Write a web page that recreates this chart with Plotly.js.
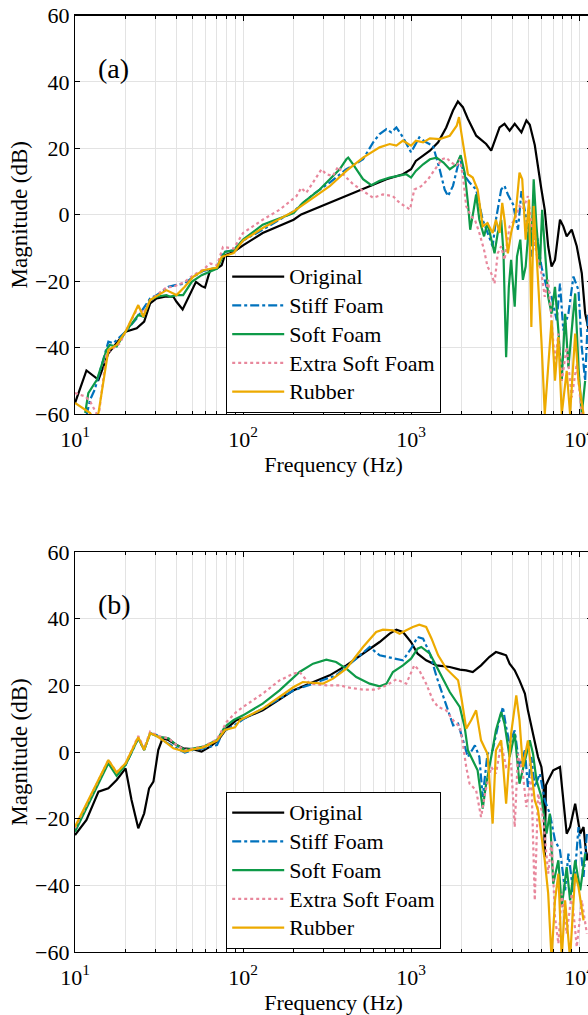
<!DOCTYPE html>
<html>
<head>
<meta charset="utf-8">
<script src="https://cdn.plot.ly/plotly-3.0.1.min.js"></script>
<style>
html,body{margin:0;padding:0;overflow:hidden;background:#fff;}
#chart{width:600px;height:1015px;}
</style>
</head>
<body>
<div id="chart"></div>
<script>
// ---------- Panel (a) ----------
const fA_original = [10, 11.7, 13.8, 15.8, 20, 23.3, 25.8, 28, 30.6, 34.3, 38.5, 40.2, 43.7, 47.2, 52.5, 56.7, 59.4, 63.7, 69.9, 74.6, 78, 87.8, 93.9, 100, 131, 200, 222, 328, 518, 714, 895, 1000, 1068, 1180, 1295, 1450, 1620, 1777, 1900, 2035, 2178, 2443, 2800, 3000, 3140, 3365, 3600, 3860, 4140, 4540, 4860, 5090, 5450, 5700, 5970, 6250, 6550, 6860, 7190, 7700, 8060, 8440, 9040, 9690, 10380, 10870, 11500, 12000];
const mA_original = [-56.7, -46.9, -49.7, -41.7, -35.2, -34.2, -32.2, -26.7, -25.2, -24.7, -24.7, -26.2, -28.5, -25.2, -20.2, -21.5, -21.9, -16.7, -16.2, -15.2, -12.2, -11.2, -10.2, -9.2, -5.5, -1.5, 0.1, 3.6, 7.6, 10.7, 12.2, 13.7, 16.2, 17.8, 19.3, 21.8, 26.3, 31.4, 34.1, 32.4, 28.9, 23.8, 21.3, 19.3, 22.3, 26.3, 27.4, 25.3, 27.4, 24.8, 28.4, 27.1, 21.0, 13.7, 7.6, 1.5, -9.5, -15.6, -13.6, -1.5, -3.5, -6.5, -4.5, -9.5, -17.6, -29.7, -35, -40];

const fA_stiff = [11.7, 12.3, 13.1, 15.8, 16.9, 20, 23.3, 28, 30.6, 36, 39.5, 45, 50.5, 58, 70, 76, 88, 100, 131, 200, 261, 328, 412, 518, 595, 650, 714, 763, 818, 895, 1000, 1068, 1120, 1230, 1350, 1480, 1585, 1660, 1777, 1950, 2085, 2230, 2440, 2670, 2920, 3060, 3200, 3440, 3600, 3770, 4050, 4330, 4540, 4860, 5200, 5580, 5970, 6400, 6860, 7360, 7700, 8060, 8640, 9260, 9920, 10380, 10870, 11300, 12000];
const mA_stiff = [-60.5, -55.7, -52.7, -38.2, -38.7, -35.2, -31.2, -25.2, -24.2, -21.7, -21.2, -20.7, -18.7, -16.9, -15.9, -11.2, -10.7, -7.8, -4.5, 1.0, 6.1, 9.7, 13.7, 16.7, 21.8, 24.3, 25.8, 24.8, 26.3, 23.3, 18.8, 21.3, 23.3, 21.8, 20.8, 13.7, 7.6, 5.6, 8.7, 17.2, 11.7, 9.7, 7.6, -1.5, -6.5, -9.5, -1.5, 7.6, 8.7, 6.1, 3.1, -4.5, 7.1, -1.5, -12.6, -5.5, -15.6, -21.7, -24.7, -31.8, -20.7, -34.8, -29.8, -18.6, -22.7, -39.9, -50, -30, -40];

const fA_soft = [11.5, 12.0, 13.5, 15.4, 16.1, 17.7, 20, 23.8, 25.5, 28, 30.6, 35, 36.8, 40.2, 44, 49.5, 56.7, 63.7, 70, 78, 88, 100, 131, 200, 227, 286, 328, 376, 412, 423, 452, 518, 580, 650, 746, 855, 937, 1000, 1068, 1180, 1295, 1420, 1560, 1700, 1870, 1975, 2085, 2180, 2250, 2350, 2440, 2550, 2720, 2850, 3000, 3140, 3280, 3440, 3550, 3680, 3820, 3940, 4140, 4270, 4470, 4630, 4810, 5040, 5200, 5370, 5580, 5840, 6030, 6250, 6550, 6860, 7190, 7530, 7890, 8260, 8640, 9040, 9480, 9920, 10380, 10870];
const mA_soft = [-59.7, -53.7, -49.7, -40.7, -39.2, -39.7, -35.2, -30.2, -30.7, -25.7, -24.7, -24.2, -24.7, -24.2, -24.2, -20.2, -18.2, -17.2, -16.2, -11.2, -10.7, -7.5, -3.0, 0.5, 3.6, 7.6, 10.7, 13.7, 16.7, 17.2, 15.2, 10.7, 8.9, 10.2, 11.2, 11.7, 12.2, 11.2, 13.2, 15.2, 16.7, 17.2, 15.7, 13.7, 15.2, 17.9, 12.7, 3.6, -4.5, 1.0, 6.1, -1.5, -6.5, -2.5, -7.5, -11.6, -5.5, -1.5, -11.6, -42.9, -21.7, -13.6, -27.7, -12.6, -7.5, -19.6, -15.6, -2.5, -9.5, 10.7, -3.5, -15.6, 1.5, -9.5, -24.7, -29.8, -21.7, -34.8, -50, -29.8, -46, -34.8, -23.7, -46, -60, -50];

const fA_extra = [10, 10.7, 11.5, 12.3, 13.1, 13.8, 15.4, 16.9, 18.5, 20, 23.8, 25.5, 28, 30.6, 35, 38.5, 45, 50.5, 58, 63.7, 70, 76, 88, 100, 131, 165, 208, 222, 238, 261, 293, 313, 343, 368, 403, 452, 518, 595, 680, 780, 855, 986, 1046, 1150, 1265, 1390, 1525, 1620, 1740, 1870, 1950, 2035, 2130, 2280, 2400, 2550, 2720, 2850, 3000, 3140, 3280, 3440, 3600, 3860, 4140, 4420, 4630, 4960, 5200, 5580, 5970, 6250, 6550, 6860, 7190, 7530, 7890, 8440, 9040, 9690, 10380];
const mA_extra = [-53.7, -54.2, -54.7, -56.2, -58.7, -61, -41.7, -40.2, -38.7, -35.2, -27.7, -29.7, -25.7, -24.2, -21.9, -21.7, -20.2, -18.2, -16.5, -14.7, -15.2, -9.7, -10.2, -5.5, -1.5, 1.5, 5.6, 8.1, 6.6, 9.7, 13.7, 12.2, 11.7, 14.5, 11.7, 9.2, 7.1, 5.1, 6.1, 5.6, 3.6, 1.6, 7.6, 8.6, 10.7, 13.7, 16.7, 17.2, 15.7, 14.7, 16.7, 11.7, 2.6, -0.5, -1.5, -5.5, -10.6, -15.6, -17.6, -20.7, -11.6, -9.5, -13.6, -3.5, -1.5, 2.6, 1.6, 5.6, -2.5, -11.6, -17.6, -24.7, -19.6, -31.8, -44.9, -35.8, -50, -39.9, -55, -44.9, -60];

const fA_rubber = [10, 11.2, 12.3, 13.0, 13.8, 15.8, 17.7, 20, 23.8, 25.5, 28, 30.6, 35, 40.2, 45, 50.5, 58, 70, 74.6, 88, 100, 131, 200, 261, 328, 412, 518, 650, 746, 818, 895, 1000, 1068, 1180, 1295, 1480, 1700, 1870, 1930, 1990, 2085, 2180, 2330, 2490, 2670, 2850, 3060, 3200, 3365, 3490, 3600, 3770, 3940, 4200, 4420, 4590, 4810, 5040, 5200, 5370, 5580, 5970, 6250, 6550, 6860, 7190, 7530, 7890, 8440, 8840, 9480, 9920, 10630];
const mA_rubber = [-56.7, -58.2, -59.7, -62, -59.7, -40.7, -39.2, -35.2, -27.2, -30.7, -25.7, -24.5, -22.7, -24.2, -21.7, -18.7, -16.7, -15.9, -12.7, -11.5, -7.8, -4.0, 1.0, 5.1, 8.6, 13.2, 17.2, 20.3, 21.3, 20.8, 22.3, 20.8, 22.3, 21.8, 23.0, 22.8, 23.8, 26.8, 29.4, 24.8, 17.8, 12.2, 11.2, 7.6, -3.5, -2.5, -5.5, -1.5, -5.5, 3.6, -1.5, -11.6, -5.5, 0.5, 12.7, 10.7, -7.5, 4.6, -33.8, 2.6, -11.6, -37.9, -60, -47, -31.8, -50, -36.8, -60, -47, -60, -35.8, -50, -60];

// ---------- Panel (b) ----------
const fB_original = [10, 11.7, 13.8, 15.8, 17.7, 20, 21.7, 23.8, 25.8, 27.6, 29.3, 31.3, 33.2, 36, 40.2, 44, 49.5, 56.7, 63.7, 71.3, 80, 91.6, 100, 131, 200, 261, 328, 412, 518, 650, 746, 818, 895, 1000, 1094, 1230, 1420, 1700, 1950, 2130, 2330, 2610, 2920, 3200, 3440, 3680, 3860, 4140, 4420, 4760, 4960, 5200, 5450, 5700, 5970, 6150, 6250, 6350, 6550, 7020, 7700, 8060, 8440, 8840, 9480, 10160, 10630, 11130, 12000];
const mB_original = [-24.9, -20.4, -11.9, -10.9, -8.4, -4.9, -14.4, -22.9, -18.4, -10.9, -8.9, 0.6, 4.1, 3.6, 2.1, 1.1, 0.9, 0.1, 1.6, 3.6, 7.1, 9.6, 10.0, 12.5, 18.5, 21, 23, 26, 29.5, 33, 35.5, 36.7, 36, 33, 29.5, 27.5, 26, 25.5, 24.7, 24.5, 24, 26, 28.5, 30, 29.5, 29, 26.5, 24.5, 21.5, 17.5, 12.5, 7.5, 3.5, -1.5, -4.5, -10, -31.5, -10, -8.5, -5.5, -4.5, -14.5, -24.5, -22.5, -15.5, -24.5, -22.5, -32.5, -26];

const fB_stiff = [10, 15.8, 17.7, 20, 23.8, 25.8, 28, 30.6, 34.3, 38.5, 45, 50.5, 58, 70, 76, 89.6, 100, 131, 200, 261, 358, 472, 567, 650, 746, 895, 1000, 1094, 1180, 1295, 1420, 1560, 1700, 1780, 1905, 2035, 2180, 2400, 2550, 2670, 2850, 3060, 3280, 3520, 3680, 3860, 4140, 4420, 4760, 4960, 5200, 5450, 5840, 6250, 6700, 7190, 7700, 8260, 8640, 9260, 9920, 10630, 11130];
const mB_stiff = [-23.4, -2.9, -6.4, -3.9, 4.1, 0.6, 5.6, 5.1, 3.1, 1.6, -0.2, 0.6, 1.1, 2.1, 6.1, 8.1, 9.8, 13, 18.5, 20.5, 23, 28, 31.5, 29, 28.3, 27.5, 31, 34.5, 34, 29.5, 22.5, 16.5, 10.5, 8, 8.5, 3.5, -1.5, 2, -1.5, -13.5, -0.5, 0.5, 7.5, 13.5, 7.5, 2.5, 6.5, -4.5, 0.5, -10.5, -1.5, -10.5, -6.5, -14.5, -18.5, -26.5, -29.5, -41.5, -30.5, -42.5, -22.5, -37.5, -24.5];

const fB_soft = [10, 15.8, 17.7, 20, 23.8, 25.8, 28, 31.3, 36, 40.2, 45, 50.5, 58, 70, 78, 88, 100, 131, 165, 217, 261, 313, 358, 412, 472, 567, 650, 714, 780, 895, 1000, 1094, 1150, 1295, 1420, 1560, 1700, 1950, 2085, 2180, 2330, 2490, 2670, 2780, 3000, 3200, 3440, 3600, 3860, 4140, 4420, 4760, 5090, 5320, 5580, 5970, 6400, 6700, 7020, 7530, 7890, 8440, 8840, 9480, 10160, 10870];
const mB_soft = [-23.9, -3.4, -7.2, -3.9, 4.1, 0.6, 5.6, 4.6, 4.1, 2.1, 0.6, 1.1, 1.6, 3.6, 7.6, 9.6, 11, 14.5, 18.5, 24, 26.5, 27.7, 27, 25, 22.5, 20.5, 19.7, 20.5, 24, 26, 28, 31, 31.5, 29.5, 25.5, 21.5, 18, 13.5, 7.5, 0.5, -2.5, -5.5, -17, -10.5, -1.5, 6.5, 12, 8.5, -1.5, 5.5, -9.5, -2.5, 3.5, -0.5, -8.5, -13.5, -24.5, -18.5, -39.5, -32.5, -46.5, -34.5, -44.5, -32.5, -41.5, -30.5];

const fB_extra = [10, 15.8, 17.7, 20, 23.8, 25.8, 28, 31.3, 36, 40.2, 45, 50.5, 58, 70, 80, 91.6, 100, 131, 165, 200, 217, 249, 313, 376, 430, 518, 620, 714, 818, 937, 1046, 1120, 1230, 1350, 1450, 1620, 1780, 1950, 2035, 2130, 2230, 2440, 2610, 2780, 3000, 3200, 3440, 3680, 3940, 4140, 4330, 4630, 4860, 5200, 5450, 5700, 6100, 6550, 6860, 7190, 7530, 7890, 8440, 9040, 9690, 10380, 11130];
const mB_extra = [-22.9, -2.4, -6, -3.4, 4.8, 1.1, 6.1, 4.8, 4.1, 2.1, 0.6, 1.1, 1.6, 3.8, 9.1, 12.1, 13.5, 17.5, 21.5, 23.5, 24, 20.5, 20, 20, 19.3, 18.7, 18.7, 20, 21.8, 20.5, 26, 24.5, 20.5, 15.5, 13.5, 12.5, 9.5, 7.5, 2.5, -4.5, -9.5, -11.5, -19.5, -11.5, -4.5, -6.5, 2.5, -4.5, -3.5, -22.5, -0.5, -6.5, -16.5, -7.5, -44.5, -12.5, -19.5, -36.5, -26.5, -49.5, -57.5, -42.5, -54.5, -42.5, -58.5, -44.5, -54.5];

const fB_rubber = [10, 15.8, 17.7, 20, 23.8, 25.8, 28, 30.6, 34.3, 38.5, 45, 50.5, 58, 70, 78, 89.6, 96, 105, 131, 200, 227, 299, 343, 412, 518, 620, 680, 780, 855, 937, 1025, 1120, 1230, 1325, 1450, 1620, 1780, 1905, 1990, 2130, 2280, 2440, 2610, 2720, 2850, 3060, 3200, 3440, 3680, 3940, 4230, 4420, 4630, 4960, 5200, 5450, 5700, 5970, 6250, 6550, 6860, 7190, 7530, 7890, 8260, 8840, 9480, 9920, 10630];
const mB_rubber = [-22.4, -2.4, -6.2, -3.4, 4.4, 0.6, 5.6, 4.8, 3.1, 1.1, 0.1, 0.8, 1.4, 3.4, 6.6, 7.4, 9.6, 10.6, 13.0, 19.5, 21, 20.5, 22, 25, 31.5, 36, 36.7, 36.5, 35.5, 36.5, 37.5, 38.2, 37.5, 34, 29, 25, 23, 21.5, 16.5, 7, 9.5, 12.5, 3.5, 1.5, -0.5, -21.5, 0.5, 3.5, -15.5, 5.5, 17, 9.5, -4.5, 3.5, -5.5, -14.5, -17.5, -24.5, -32.5, -42.5, -62, -44.5, -36.5, -62, -44.5, -62, -36.5, -40.5, -50.5];

const seriesNames = ['Original', 'Stiff Foam', 'Soft Foam', 'Extra Soft Foam', 'Rubber'];
const xTickVals = [10, 100, 1000, 10000];
const xTickText = ['10<sup>1</sup>', '10<sup>2</sup>', '10<sup>3</sup>', '10<sup>4</sup>'];
const panelLabels = ['(a)', '(b)'];

// ---------- styles ----------
const styles = [
  {color: '#000000', dash: 'solid'},
  {color: '#0072BD', dash: 'dashdot'},
  {color: '#0E9A48', dash: 'solid'},
  {color: '#E8879C', dash: 'dot'},
  {color: '#EDAA00', dash: 'solid'}
];
const FONT = '"Liberation Serif", "Times New Roman", Times, serif';

const panelA = [[fA_original, mA_original], [fA_stiff, mA_stiff], [fA_soft, mA_soft], [fA_extra, mA_extra], [fA_rubber, mA_rubber]];
const panelB = [[fB_original, mB_original], [fB_stiff, mB_stiff], [fB_soft, mB_soft], [fB_extra, mB_extra], [fB_rubber, mB_rubber]];

const traces = [];
[panelA, panelB].forEach((panel, pi) => {
  panel.forEach((d, i) => {
    traces.push({
      type: 'scatter', mode: 'lines',
      x: d[0], y: d[1],
      name: '<span style="font-size:22px">' + seriesNames[i] + '</span>',
      xaxis: pi === 0 ? 'x' : 'x2',
      yaxis: pi === 0 ? 'y' : 'y2',
      legend: pi === 0 ? 'legend' : 'legend2',
      line: {color: styles[i].color, dash: styles[i].dash, width: 2.2},
      hoverinfo: 'skip'
    });
  });
});

// minor tick values 2..9 per decade
const minorVals = [];
for (let dec = 10; dec <= 10000; dec *= 10) {
  for (let k = 2; k <= 9; k++) minorVals.push(k * dec);
}

const W = 600, H = 1015;
const L = 75, R = 8;
const xRange = [1, 4.077];

function xAxisDef(anchor) {
  return {
    type: 'log', range: xRange, anchor: anchor,
    tickmode: 'array', tickvals: xTickVals, ticktext: xTickText,
    ticks: 'inside', ticklen: 5, tickwidth: 1, tickcolor: '#000',
    ticklabelstandoff: 5,
    showline: true, linecolor: '#000', linewidth: 1.2, mirror: 'ticks',
    showgrid: true, gridcolor: '#e3e3e3', gridwidth: 1,
    minor: {tickmode: 'array', tickvals: minorVals, ticks: 'inside', ticklen: 3, tickcolor: '#000',
            showgrid: true, gridcolor: '#e3e3e3', gridwidth: 1},
    tickfont: {family: FONT, size: 22, color: '#000'},
    title: {text: 'Frequency (Hz)', font: {family: FONT, size: 22, color: '#000'}, standoff: 6},
    zeroline: false, fixedrange: true
  };
}
function yAxisDef(anchor, domain) {
  return {
    range: [-60, 60], domain: domain, anchor: anchor,
    tickmode: 'array', tickvals: [-60, -40, -20, 0, 20, 40, 60],
    ticks: 'inside', ticklen: 5, tickwidth: 1, tickcolor: '#000',
    showline: true, linecolor: '#000', linewidth: 1.2, mirror: 'ticks',
    showgrid: true, gridcolor: '#e3e3e3', gridwidth: 1,
    zeroline: false,
    tickfont: {family: FONT, size: 22, color: '#000'},
    title: {text: 'Magnitude (dB)', font: {family: FONT, size: 23, color: '#000'}, standoff: 1},
    fixedrange: true
  };
}

const legendDef = (ytop) => ({
  x: (226 - L) / (W - L - R), y: ytop, xanchor: 'left', yanchor: 'top',
  bgcolor: '#ffffff', bordercolor: '#000', borderwidth: 1.2,
  font: {family: FONT, size: 19.8, color: '#000'},
  itemwidth: 52, tracegroupgap: 0,
  traceorder: 'normal'
});

const layout = {
  width: W, height: H,
  margin: {l: L, r: R, t: 0, b: 0, autoexpand: false},
  paper_bgcolor: '#fff', plot_bgcolor: '#fff',
  showlegend: true,
  font: {family: FONT, size: 22, color: '#000'},
  xaxis: xAxisDef('y'),
  yaxis: yAxisDef('x', [1 - 414 / H, 1 - 15.5 / H]),
  xaxis2: xAxisDef('y2'),
  yaxis2: yAxisDef('x2', [1 - 952 / H, 1 - 552 / H]),
  legend: legendDef(1 - 256 / H),
  legend2: legendDef(1 - 792 / H),
  annotations: [
    {text: panelLabels[0], xref: 'paper', yref: 'paper', x: (96 - L) / (W - L - R), y: 1 - 68 / H,
     xanchor: 'left', yanchor: 'middle', showarrow: false, font: {family: FONT, size: 28, color: '#000'}},
    {text: panelLabels[1], xref: 'paper', yref: 'paper', x: (96 - L) / (W - L - R), y: 1 - 604 / H,
     xanchor: 'left', yanchor: 'middle', showarrow: false, font: {family: FONT, size: 28, color: '#000'}}
  ]
};

Plotly.newPlot('chart', traces, layout, {staticPlot: true, displayModeBar: false});
</script>
</body>
</html>
